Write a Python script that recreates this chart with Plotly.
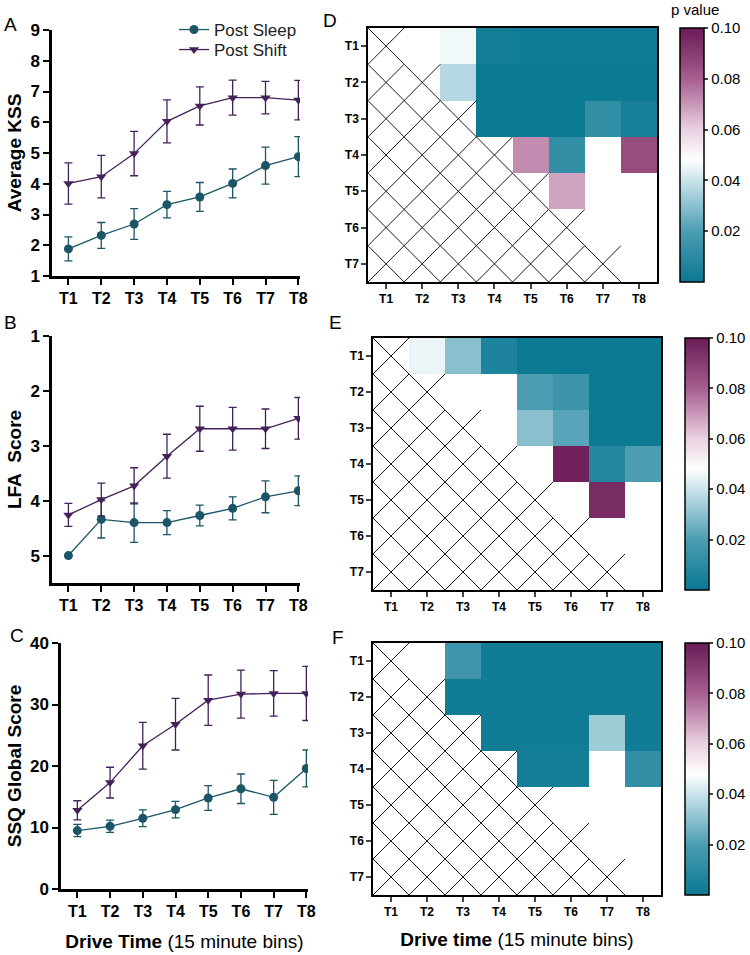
import plotly.graph_objects as go

W, H = 750, 955
FONT = "Liberation Sans, Arial, sans-serif"

times = ["T1", "T2", "T3", "T4", "T5", "T6", "T7", "T8"]
rows = ["T1", "T2", "T3", "T4", "T5", "T6", "T7"]

# line panels (mean, error)
kss_sleep = [1.88, 2.32, 2.69, 3.32, 3.57, 4.01, 4.59, 4.88]
kss_sleep_err = [0.39, 0.42, 0.50, 0.43, 0.47, 0.47, 0.60, 0.65]
kss_shift = [4.01, 4.23, 4.98, 6.03, 6.53, 6.80, 6.80, 6.72]
kss_shift_err = [0.67, 0.69, 0.72, 0.70, 0.62, 0.57, 0.53, 0.64]

lfa_sleep = [5.00, 4.34, 4.40, 4.40, 4.27, 4.14, 3.93, 3.82]
lfa_sleep_err = [0.0, 0.34, 0.36, 0.22, 0.19, 0.21, 0.29, 0.27]
lfa_shift = [4.26, 3.98, 3.73, 3.19, 2.69, 2.69, 2.69, 2.50]
lfa_shift_err = [0.21, 0.30, 0.33, 0.40, 0.41, 0.39, 0.36, 0.38]

ssq_sleep = [9.5, 10.2, 11.5, 12.9, 14.8, 16.3, 14.9, 19.6]
ssq_sleep_err = [1.0, 1.0, 1.35, 1.35, 2.0, 2.4, 2.75, 3.0]
ssq_shift = [12.8, 17.3, 23.3, 26.8, 30.7, 31.7, 31.8, 31.8]
ssq_shift_err = [1.55, 2.5, 3.8, 4.2, 4.1, 3.9, 3.7, 4.4]

# p value matrices (rows T1..T7, cols T1..T8); None = not significant / hatched
kss_p = [
    [None, None, 0.046, 0.003, 0.002, 0.002, 0.002, 0.002],
    [None, None, 0.037, 0.001, 0.001, 0.001, 0.001, 0.001],
    [None, None, None, 0.001, 0.001, 0.001, 0.012, 0.004],
    [None, None, None, None, 0.072, 0.012, None, 0.085],
    [None, None, None, None, None, 0.068, None, None],
    [None, None, None, None, None, None, None, None],
    [None, None, None, None, None, None, None, None],
]
lfa_p = [
    [None, 0.045, 0.030, 0.006, 0.001, 0.001, 0.001, 0.001],
    [None, None, None, None, 0.020, 0.015, 0.001, 0.001],
    [None, None, None, None, 0.030, 0.022, 0.001, 0.001],
    [None, None, None, None, None, 0.098, 0.008, 0.020],
    [None, None, None, None, None, None, 0.095, None],
    [None, None, None, None, None, None, None, None],
    [None, None, None, None, None, None, None, None],
]
ssq_p = [
    [None, None, 0.016, 0.002, 0.002, 0.002, 0.002, 0.002],
    [None, None, 0.002, 0.002, 0.002, 0.002, 0.002, 0.002],
    [None, None, None, 0.002, 0.002, 0.002, 0.033, 0.002],
    [None, None, None, None, 0.003, 0.003, None, 0.012],
    [None, None, None, None, None, None, None, None],
    [None, None, None, None, None, None, None, None],
    [None, None, None, None, None, None, None, None],
]

SLEEP = "#1B5566"
SHIFT = "#452159"
pscale = [[0, "#0A7892"], [0.2, "#4C9DB2"], [0.4, "#C9E3EA"], [0.48, "#FFFFFF"],
          [0.6, "#E9D1E1"], [0.8, "#A75E90"], [1, "#6A1A55"]]


def px_x(a, b):
    return [a / W, b / W]


def px_y(top, bottom):
    return [1 - bottom / H, 1 - top / H]


fig = go.Figure()
xi = list(range(1, 9))


def add_lines(n, sleep, sleep_err, shift, shift_err, legend):
    xa, ya = ("x" if n == 1 else f"x{n}"), ("y" if n == 1 else f"y{n}")
    fig.add_trace(go.Scatter(
        x=xi, y=sleep, name="Post Sleep", mode="lines+markers", xaxis=xa, yaxis=ya,
        line=dict(color=SLEEP, width=1.3), marker=dict(symbol="circle", size=9, color=SLEEP),
        error_y=dict(type="data", array=sleep_err, color=SLEEP, thickness=1.3, width=4),
        showlegend=legend, legend="legend"))
    fig.add_trace(go.Scatter(
        x=xi, y=shift, name="Post Shift", mode="lines+markers", xaxis=xa, yaxis=ya,
        line=dict(color=SHIFT, width=1.3), marker=dict(symbol="triangle-down", size=9, color=SHIFT),
        error_y=dict(type="data", array=shift_err, color=SHIFT, thickness=1.3, width=4),
        showlegend=legend, legend="legend2"))


add_lines(1, kss_sleep, kss_sleep_err, kss_shift, kss_shift_err, True)
add_lines(2, lfa_sleep, lfa_sleep_err, lfa_shift, lfa_shift_err, False)
add_lines(3, ssq_sleep, ssq_sleep_err, ssq_shift, ssq_shift_err, False)


def add_heat(n, z, cb_x, cb_top, cb_bot):
    xa, ya = f"x{n}", f"y{n}"
    fig.add_trace(go.Heatmap(
        z=z, x=xi, y=list(range(1, 8)), xaxis=xa, yaxis=ya, zmin=0, zmax=0.1,
        colorscale=pscale, hoverongaps=False,
        colorbar=dict(x=cb_x / W, xanchor="left", xpad=0, ypad=0, thickness=24,
                      len=(cb_bot - cb_top) / H, y=1 - (cb_top + cb_bot) / 2 / H, yanchor="middle",
                      outlinewidth=1.5, outlinecolor="black", ticks="outside", ticklen=4,
                      tickwidth=1.5, tickvals=[0.02, 0.04, 0.06, 0.08, 0.1],
                      ticktext=["0.02", "0.04", "0.06", "0.08", "0.10"],
                      ticklabeloverflow="allow",
                      tickfont=dict(size=15, color="black", family=FONT))))
    # hatching over the lower triangle (cells with col <= row)
    hx, hy = [], []
    for r in range(1, 8):
        for c in range(1, r + 1):
            hx += [c - 0.5, c + 0.5, None, c - 0.5, c + 0.5, None]
            hy += [r - 0.5, r + 0.5, None, r + 0.5, r - 0.5, None]
    fig.add_trace(go.Scatter(x=hx, y=hy, mode="lines", xaxis=xa, yaxis=ya,
                             line=dict(color="black", width=0.9), showlegend=False,
                             hoverinfo="skip"))


add_heat(4, kss_p, 680, 28, 282)
add_heat(5, lfa_p, 685, 338, 590)
add_heat(6, ssq_p, 685, 643, 895)

tick_b = dict(size=16, color="black", family=FONT, weight="bold")
line_x = dict(range=[0.5, 8.05], tickvals=xi, ticktext=times, automargin=False,
              showline=True, linewidth=2.5, linecolor="black", ticks="outside",
              ticklen=6, tickwidth=2.2, tickcolor="black", showgrid=False, zeroline=False,
              tickfont=tick_b)
line_y = dict(showline=True, linewidth=2.5, linecolor="black", ticks="outside", automargin=False,
              ticklen=6, tickwidth=2.2, tickcolor="black", showgrid=False, zeroline=False,
              tickfont=dict(tick_b, size=17),
              title_font=dict(size=19, color="black", family=FONT, weight="bold"),
              title_standoff=4)

heat_font = dict(size=12, color="black", family=FONT, weight="bold")
heat_x = dict(range=[0.5, 8.5], tickvals=xi, ticktext=times, automargin=False,
              showline=True, mirror=True, linewidth=1.5, linecolor="black", ticks="outside",
              ticklen=5, tickwidth=1.5, showgrid=False, zeroline=False, tickfont=heat_font)
heat_y = dict(range=[7.5, 0.5], tickvals=list(range(1, 8)), ticktext=rows, automargin=False,
              showline=True, mirror=True, linewidth=1.5, linecolor="black", ticks="outside",
              ticklen=5, tickwidth=1.5, showgrid=False, zeroline=False, tickfont=heat_font)

xt_font = dict(size=19, color="black", family=FONT)
leg_common = dict(x=174 / W, xanchor="left", yanchor="middle", bgcolor="rgba(0,0,0,0)",
                  font=dict(size=17, color="#222", family=FONT), itemwidth=30)

fig.update_layout(
    width=W, height=H, margin=dict(l=0, r=0, t=0, b=0, autoexpand=False),
    paper_bgcolor="white", plot_bgcolor="white",
    font=dict(family=FONT, color="black"),
    legend=dict(leg_common, y=1 - 30 / H),
    legend2=dict(leg_common, y=1 - 50 / H),
    xaxis=dict(line_x, domain=px_x(52, 300), anchor="y"),
    yaxis=dict(line_y, domain=px_y(30, 276), anchor="x", range=[1, 9], dtick=1,
               title_text="Average KSS"),
    xaxis2=dict(line_x, domain=px_x(52, 300), anchor="y2"),
    yaxis2=dict(line_y, domain=px_y(336, 583), anchor="x2", range=[5.5, 1],
                tickvals=[1, 2, 3, 4, 5], title_text="LFA\u00a0 Score"),
    xaxis3=dict(line_x, domain=px_x(61, 308), anchor="y3",
                title_text="<b>Drive Time</b> (15 minute bins)", title_font=xt_font,
                title_standoff=16),
    yaxis3=dict(line_y, domain=px_y(643, 889), anchor="x3", range=[0, 40], dtick=10,
                title_text="SSQ Global Score"),
    xaxis4=dict(heat_x, domain=px_x(368, 657), anchor="y4"),
    yaxis4=dict(heat_y, domain=px_y(28, 282), anchor="x4"),
    xaxis5=dict(heat_x, domain=px_x(373, 661), anchor="y5"),
    yaxis5=dict(heat_y, domain=px_y(338, 590), anchor="x5"),
    xaxis6=dict(heat_x, domain=px_x(373, 661), anchor="y6",
                title_text="<b>Drive time</b> (15 minute bins)", title_font=xt_font,
                title_standoff=15),
    yaxis6=dict(heat_y, domain=px_y(643, 895), anchor="x6"),
)

letters = [("A", 10, 25), ("B", 10, 323), ("C", 17, 635), ("D", 330, 20), ("E", 335, 323), ("F", 338, 637)]
for txt, lx, ly in letters:
    fig.add_annotation(text=txt, x=lx / W, y=1 - ly / H, xref="paper", yref="paper",
                       showarrow=False, font=dict(size=19, color="black", family=FONT),
                       xanchor="center", yanchor="middle")
fig.add_annotation(text="p value", x=695 / W, y=1 - 9 / H, xref="paper", yref="paper",
                   showarrow=False, font=dict(size=15, color="black", family=FONT),
                   xanchor="center", yanchor="middle")

# page body has a default margin; drop it so the figure sits at the window origin
fig.write_html("out.html", config={"displayModeBar": False},
               post_script="document.body.style.margin='0';document.body.style.overflow='hidden';")
